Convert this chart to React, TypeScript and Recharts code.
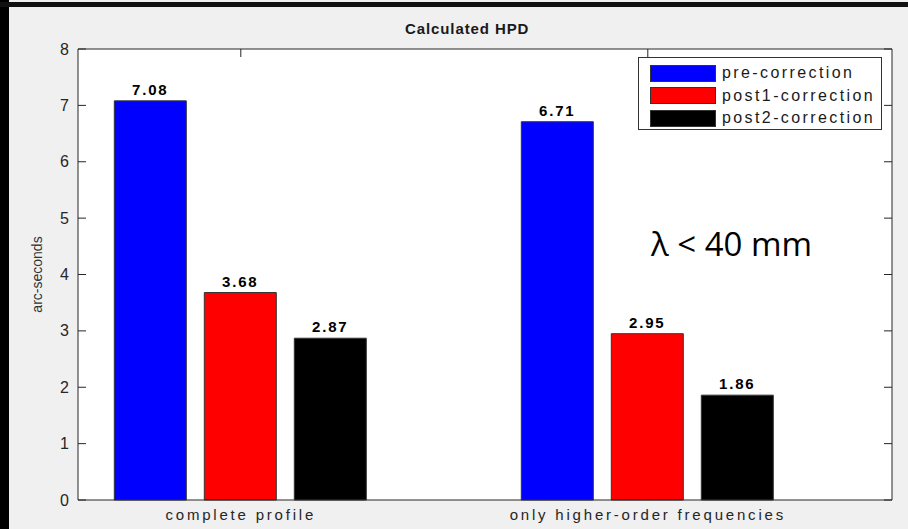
import {
  BarChart, Bar, XAxis, YAxis, CartesianGrid, LabelList, Legend,
} from 'recharts'

const BLUE  = '#0000FF'
const RED   = '#FF0000'
const BLACK = '#000000'
const AXIS  = '#262626'

// data
const categories = ['complete profile', 'only higher-order frequencies']
const positions  = [1, 2]
const pre   = [7.08, 6.71]
const post1 = [3.68, 2.95]
const post2 = [2.87, 1.86]
const yTicks = [0, 1, 2, 3, 4, 5, 6, 7, 8]
const seriesNames = ['pre-correction', 'post1-correction', 'post2-correction']

const data = positions.map((x, i) => ({
  x, cat: categories[i], pre: pre[i], post1: post1[i], post2: post2[i],
}))

const W = 908
const H = 529
const M = { top: 48, right: 15, bottom: 1, left: 18 }
const YW = 60
const XH = 28
const PL = M.left + YW
const PR = W - M.right - 1
const PT = M.top + 1
const PB = H - M.bottom - XH
const FONT = '"Liberation Sans", Arial, sans-serif'

function YTick({ y, payload }: any) {
  return (
    <g>
      <line x1={PL} x2={PL + 8} y1={y} y2={y} stroke={AXIS} />
      <line x1={PR - 8} x2={PR} y1={y} y2={y} stroke={AXIS} />
      <text x={PL - 9} y={y} dy={5.5} textAnchor="end" fontSize={16}
        fontFamily={FONT} fill={AXIS}>{payload.value}</text>
    </g>
  )
}

function XTick({ x, payload }: any) {
  const idx = positions.indexOf(payload.value)
  return (
    <g>
      <line x1={x} x2={x} y1={PT} y2={PT + 8} stroke={AXIS} />
      <text x={x} y={PB + 20} textAnchor="middle" fontSize={15}
        fontFamily={FONT} fill={AXIS} letterSpacing={2.8}>{categories[idx]}</text>
    </g>
  )
}

function LegendBox() {
  const colors = [BLUE, RED, BLACK]
  return (
    <div style={{
      border: '1px solid #333', background: '#fff', width: 244, height: 73,
      boxSizing: 'border-box', paddingTop: 4, textAlign: 'left',
    }}>
      {seriesNames.map((n, i) => (
        <div key={n} style={{ display: 'flex', alignItems: 'center', height: 22.5, marginLeft: 11 }}>
          <div style={{ width: 64, height: 15, background: colors[i], border: '1px solid #333' }} />
          <span style={{
            marginLeft: 6, fontFamily: FONT, fontSize: 16, color: '#1a1a1a', letterSpacing: 2.4,
          }}>{n}</span>
        </div>
      ))}
    </div>
  )
}

const labelStyle = { fontWeight: 700, fontSize: 15, fill: '#000', fontFamily: FONT, letterSpacing: 1.8 }
const fmt = (v: any) => Number(v).toFixed(2)

export default function App() {
  return (
    <div style={{ position: 'absolute', left: 0, top: 0, width: W, height: H, background: '#F0F0F0', overflow: 'hidden' }}>
      <div style={{ position: 'absolute', left: 0, top: 0, width: 9, height: H, background: '#000' }} />
      <div style={{ position: 'absolute', left: 0, top: 2, width: W, height: 5, background: '#111' }} />
      <div style={{
        position: 'absolute', left: 405, top: 20, whiteSpace: 'nowrap',
        fontFamily: FONT, fontWeight: 700, fontSize: 15, color: '#1a1a1a', letterSpacing: 0.9,
      }}>Calculated HPD</div>
      <BarChart width={W} height={H} data={data} margin={M} barSize={72} barGap={18}
        style={{ position: 'absolute', left: 0, top: 0 }}>
        <CartesianGrid fill="#FFFFFF" horizontal={false} vertical={false} />
        <XAxis xAxisId="b" type="number" dataKey="x" domain={[0.6, 2.6]} ticks={positions}
          height={XH} tickLine={false} axisLine={{ stroke: AXIS }} tick={<XTick />} interval={0} />
        <XAxis xAxisId="t" orientation="top" type="number" dataKey="x" domain={[0.6, 2.6]}
          height={1} tick={false} tickLine={false} axisLine={{ stroke: AXIS }} />
        <YAxis yAxisId="l" domain={[0, 8]} ticks={yTicks} width={YW} tickLine={false}
          axisLine={{ stroke: AXIS }} tick={<YTick />} interval={0}
          label={{ value: 'arc-seconds', angle: -90, position: 'insideLeft', offset: 19,
            style: { fontSize: 14, fill: '#333', fontFamily: FONT, textAnchor: 'middle' } }} />
        <YAxis yAxisId="r" orientation="right" domain={[0, 8]} width={1} tick={false}
          tickLine={false} axisLine={{ stroke: AXIS }} />
        <Legend layout="horizontal" verticalAlign="middle" align="center" content={<LegendBox />}
          wrapperStyle={{ position: 'absolute', left: 638, top: 57, width: 244 }} />
        <Bar xAxisId="b" yAxisId="l" dataKey="pre" name={seriesNames[0]} fill={BLUE}
          stroke="#333" strokeWidth={1} isAnimationActive={false}>
          <LabelList dataKey="pre" position="top" offset={6} formatter={fmt} style={labelStyle} />
        </Bar>
        <Bar xAxisId="b" yAxisId="l" dataKey="post1" name={seriesNames[1]} fill={RED}
          stroke="#333" strokeWidth={1} isAnimationActive={false}>
          <LabelList dataKey="post1" position="top" offset={6} formatter={fmt} style={labelStyle} />
        </Bar>
        <Bar xAxisId="b" yAxisId="l" dataKey="post2" name={seriesNames[2]} fill={BLACK}
          stroke="#333" strokeWidth={1} isAnimationActive={false}>
          <LabelList dataKey="post2" position="top" offset={6} formatter={fmt} style={labelStyle} />
        </Bar>
      </BarChart>
      <div style={{
        position: 'absolute', left: 651, top: 221, fontFamily: '"Open Sans", sans-serif',
        fontSize: 33, color: '#000', whiteSpace: 'nowrap',
      }}>λ &lt; 40 mm</div>
    </div>
  )
}
